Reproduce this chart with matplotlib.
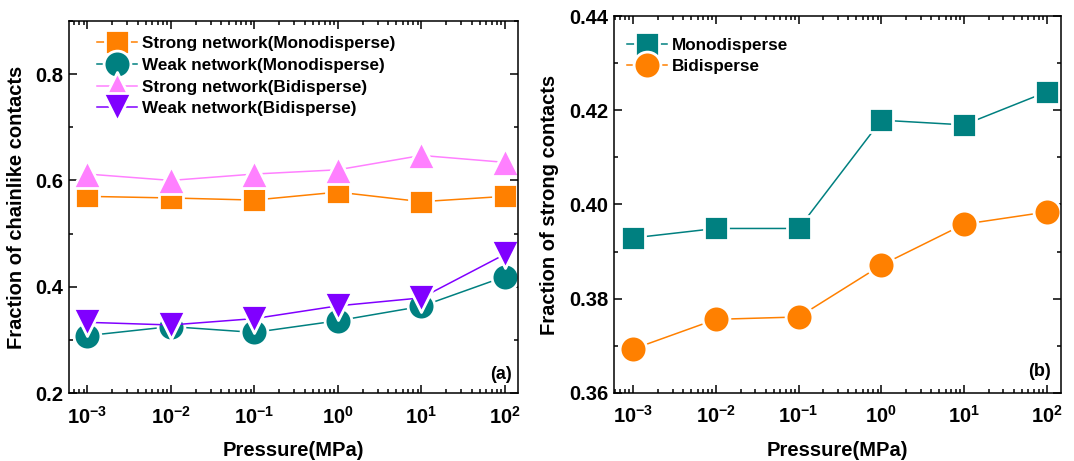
import numpy as np
import matplotlib
matplotlib.use('Agg')
from matplotlib import pyplot as plt
from matplotlib.markers import MarkerStyle
from matplotlib.ticker import LogLocator, MultipleLocator, FixedFormatter, NullFormatter

plt.rcParams['font.family'] = ['Liberation Sans', 'DejaVu Sans']
plt.rcParams['font.weight'] = 'bold'
plt.rcParams['mathtext.fontset'] = 'custom'
plt.rcParams['mathtext.rm'] = 'Liberation Sans:bold'
plt.rcParams['mathtext.bf'] = 'Liberation Sans:bold'
plt.rcParams['mathtext.it'] = 'Liberation Sans:bold'

# data
pressure = [1e-3, 1e-2, 1e-1, 1e0, 1e1, 1e2]
decade_labels = [r'$10^{-3}$', r'$10^{-2}$', r'$10^{-1}$', r'$10^{0}$', r'$10^{1}$', r'$10^{2}$']

strong_mono = [0.570, 0.567, 0.563, 0.578, 0.560, 0.570]
weak_mono = [0.308, 0.325, 0.314, 0.336, 0.363, 0.419]
strong_bi = [0.612, 0.600, 0.612, 0.620, 0.647, 0.634]
weak_bi = [0.333, 0.328, 0.340, 0.364, 0.379, 0.461]

strong_frac_mono = [0.3929, 0.3949, 0.3949, 0.4179, 0.4169, 0.4239]
strong_frac_bi = [0.3693, 0.3756, 0.3761, 0.3871, 0.3958, 0.3984]

ORANGE = '#FF8000'
TEAL = '#008080'
PINK = '#FF80FF'
PURPLE = '#8000FF'


def style_axis(ax, ylim, major, minor, xlim):
    ax.set_xscale('log')
    ax.set_xlim(*xlim)
    ax.set_ylim(*ylim)
    ax.set_xticks(pressure)
    ax.xaxis.set_major_formatter(FixedFormatter(decade_labels))
    ax.xaxis.set_minor_locator(LogLocator(base=10, subs=np.arange(2, 10), numticks=20))
    ax.xaxis.set_minor_formatter(NullFormatter())
    ax.yaxis.set_major_locator(MultipleLocator(major))
    ax.yaxis.set_minor_locator(MultipleLocator(minor))
    ax.tick_params(which='both', direction='in', top=True, right=True, width=1.1)
    ax.tick_params(which='major', length=6, labelsize=14.5)
    ax.tick_params(which='minor', length=3)
    ax.tick_params(axis='x', which='major', pad=9)
    ax.tick_params(axis='y', which='major', pad=4)
    for s in ax.spines.values():
        s.set_linewidth(1.1)
    ax.set_xlabel('Pressure(MPa)', fontsize=14.5, fontweight='bold', labelpad=10)


def series(ax, y, color, marker, label, ms):
    m = MarkerStyle(marker, joinstyle='round')
    ax.plot(pressure, y, color=color, lw=1.1, marker=m, ms=ms,
            mfc=color, mec='white', mew=2.0, label=label)


fig = plt.figure(figsize=(10.74, 4.61), dpi=100)

ax1 = fig.add_axes([0.0642, 0.1475, 0.418, 0.807])
series(ax1, strong_mono, ORANGE, 's', 'Strong network(Monodisperse)', 16.7)
series(ax1, weak_mono, TEAL, 'o', 'Weak network(Monodisperse)', 19.3)
series(ax1, strong_bi, PINK, '^', 'Strong network(Bidisperse)', 20.5)
series(ax1, weak_bi, PURPLE, 'v', 'Weak network(Bidisperse)', 20.5)
style_axis(ax1, (0.2, 0.9), 0.2, 0.1, (10 ** -3.22, 10 ** 2.156))
ax1.set_yticks([0.2, 0.4, 0.6, 0.8])
ax1.set_ylabel('Fraction of chainlike contacts', fontsize=14.5, fontweight='bold', labelpad=7)
ax1.legend(loc='upper left', bbox_to_anchor=(0.062, 0.96), frameon=False,
           borderpad=0, borderaxespad=0,
           fontsize=12.3, handlelength=2.35, handletextpad=0.3, labelspacing=0.4)
ax1.text(0.987, 0.027, '(a)', transform=ax1.transAxes, ha='right', va='bottom',
         fontsize=13, fontweight='bold')

ax2 = fig.add_axes([0.5717, 0.148, 0.4159, 0.817])
series(ax2, strong_frac_mono, TEAL, 's', 'Monodisperse', 16.7)
series(ax2, strong_frac_bi, ORANGE, 'o', 'Bidisperse', 19.3)
style_axis(ax2, (0.36, 0.44), 0.02, 0.01, (10 ** -3.233, 10 ** 2.17))
ax2.yaxis.set_major_formatter(plt.FuncFormatter(lambda v, p: f'{v:.2f}'))
ax2.set_ylabel('Fraction of strong contacts', fontsize=14.5, fontweight='bold', labelpad=7)
ax2.legend(loc='upper left', bbox_to_anchor=(0.029, 0.943), frameon=False,
           borderpad=0, borderaxespad=0,
           fontsize=12.3, handlelength=2.35, handletextpad=0.3, labelspacing=0.4)
ax2.text(0.978, 0.034, '(b)', transform=ax2.transAxes, ha='right', va='bottom',
         fontsize=13, fontweight='bold')

fig.savefig('out.png', dpi=100)
